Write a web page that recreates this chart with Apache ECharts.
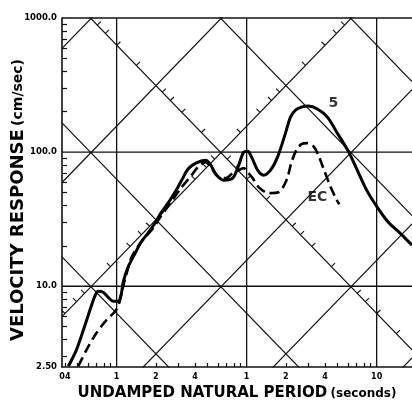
<!DOCTYPE html>
<html><head><meta charset="utf-8">
<script src="https://cdn.jsdelivr.net/npm/echarts@6/dist/echarts.min.js"></script>
<style>html,body{margin:0;padding:0;background:#fff}#c{width:412px;height:409px}</style>
</head><body><div id="c"></div>
<script>
// ---- data ----
const periodTicks = [0.04, 0.1, 0.2, 0.4, 1, 2, 4, 10];
const periodTickLabels = ['04', '1', '2', '4', '1', '2', '4', '10'];
const velocityTicks = [2.5, 10, 100, 1000];
const velocityTickLabels = ['2.50', '10.0', '100.0', '1000.0'];
const periodGridLines = [0.1, 1, 10];
const velocityGridLines = [10, 100, 1000];
const displacementLinesCm = [0.1, 1, 10, 100, 1000];
const accelerationLinesG = [0.001, 0.01, 0.1, 1, 10, 100];
const tickedDisplacementCm = 10;     // diagonal scale carrying acceleration ticks
const tickedAccelerationG = 1;       // diagonal scale carrying displacement ticks
const diagonalTickMultipliers = [2, 4, 6, 8];
const minorMultipliers = [2, 3, 4, 5, 6, 7, 8, 9];

const curve5Period = [0.0425, 0.0489, 0.0554, 0.0605, 0.0649, 0.0685, 0.0722, 0.0788, 0.0861, 0.094, 0.1026, 0.1082, 0.1122, 0.1225, 0.1386, 0.154, 0.1743, 0.197, 0.219, 0.257, 0.296, 0.323, 0.353, 0.407, 0.485, 0.530, 0.579, 0.667, 0.781, 0.869, 0.948, 1.018, 1.092, 1.214, 1.350, 1.527, 1.728, 1.990, 2.173, 2.375, 2.638, 2.985, 3.50, 4.18, 4.98, 6.05, 7.09, 8.46, 10.09, 12.25, 15.14, 18.71];
const curve5Velocity = [2.53, 3.33, 4.70, 6.08, 7.47, 8.57, 9.18, 9.02, 8.28, 7.73, 7.73, 8.57, 10.7, 13.9, 17.6, 21.3, 24.9, 29.5, 35.1, 43.8, 54.8, 64.0, 74.6, 82.8, 87.1, 80.0, 68.5, 61.8, 64.0, 80.0, 100, 101.7, 91.8, 73.4, 67.3, 73.4, 91.8, 138.6, 182.4, 205.6, 216.6, 220.3, 209.5, 182.4, 138.6, 101.7, 73.4, 51.2, 38.9, 30.1, 24.9, 20.2];

const curveECPeriod = [0.0507, 0.0584, 0.0697, 0.0831, 0.0974, 0.1045, 0.1102, 0.1183, 0.1292, 0.1462, 0.1683, 0.1905, 0.219, 0.262, 0.312, 0.372, 0.429, 0.485, 0.549, 0.610, 0.691, 0.781, 0.869, 0.948, 1.018, 1.112, 1.236, 1.474, 1.758, 2.025, 2.213, 2.416, 2.638, 2.934, 3.26, 3.56, 3.89, 4.40, 4.89, 5.16];
const curveECVelocity = [2.53, 3.33, 4.46, 5.57, 6.51, 7.47, 9.33, 12.1, 16.2, 19.9, 23.6, 27.1, 33.3, 42.4, 53.8, 66.2, 78.7, 84.2, 73.4, 65.1, 64.0, 69.7, 73.4, 76.0, 70.9, 64.0, 54.8, 49.5, 50.2, 61.8, 84.2, 103.5, 114.7, 116.7, 110.9, 95.0, 76.0, 55.8, 44.6, 40.9];

const curveLabels = [
  { text: '5', period: 4.64, velocity: 232 },
  { text: 'EC', period: 3.50, velocity: 46 }
];

// ---- build ----
const T_MIN = 0.038, T_MAX = 18.7, V_MIN = 2.5, V_MAX = 1000;
const G_K = 981 / (2 * Math.PI);   // V/T per g
const FONT = 'DejaVu Sans, Liberation Sans, Arial, sans-serif';
function minorTicks(lo, hi) {
  const out = [];
  for (let e = -3; e <= 4; e++) {
    const d = Math.pow(10, e);
    minorMultipliers.forEach(m => { const v = +(m * d).toPrecision(6); if (v > lo && v < hi) out.push(v); });
  }
  return out;
}
function labelFor(ticks, labels) {
  return function (v) {
    for (let i = 0; i < ticks.length; i++) if (Math.abs(Math.log10(v) - Math.log10(ticks[i])) < 1e-3) return labels[i];
    return '';
  };
}
const lineColor = '#111';
const series = [];
function straight(pts, w, clip) {
  series.push({ type: 'line', data: pts, symbol: 'none', silent: true, clip: clip,
    lineStyle: { color: lineColor, width: w }, animation: false, z: 1 });
}
periodGridLines.forEach(t => straight([[t, V_MIN], [t, V_MAX]], 1.3, false));
velocityGridLines.forEach(v => straight([[T_MIN, v], [T_MAX, v]], 1.3, false));
// tripartite diagonals: V*T = 2*pi*D ; V/T = A*981/(2*pi)
displacementLinesCm.forEach(D => {
  const k = 2 * Math.PI * D;
  straight([[T_MIN, k / T_MIN], [T_MAX, k / T_MAX]], 1.2, true);
});
accelerationLinesG.forEach(A => {
  const k = A * G_K;
  straight([[T_MIN, k * T_MIN], [T_MAX, k * T_MAX]], 1.2, true);
});
// small ticks on the two labelled diagonal scales
const diagTicks = [];
for (let e = -4; e <= 3; e++) {
  diagonalTickMultipliers.forEach(m => {
    const val = m * Math.pow(10, e);
    // acceleration tick on the D line
    let t = Math.sqrt(2 * Math.PI * tickedDisplacementCm / (G_K * val));
    let v = 2 * Math.PI * tickedDisplacementCm / t;
    if (t > T_MIN && t < T_MAX && v > V_MIN && v < V_MAX) diagTicks.push([t, v, -1]);
    // displacement tick on the A line
    t = Math.sqrt(2 * Math.PI * val / (G_K * tickedAccelerationG));
    v = G_K * tickedAccelerationG * t;
    if (t > T_MIN && t < T_MAX && v > V_MIN && v < V_MAX) diagTicks.push([t, v, 1]);
  });
}
series.push({
  type: 'custom', data: diagTicks, silent: true, animation: false, z: 2, clip: true,
  renderItem: function (params, api) {
    const t = api.value(0), v = api.value(1), s = api.value(2);
    const p = api.coord([t, v]);
    const q = api.coord([t * 1.2, v * Math.pow(1.2, s)]);
    let dx = q[0] - p[0], dy = q[1] - p[1];
    const len = Math.sqrt(dx * dx + dy * dy); dx /= len; dy /= len;
    let nx = dy, ny = -dx;
    if (ny > 0) { nx = -nx; ny = -ny; }
    return { type: 'line', shape: { x1: p[0], y1: p[1], x2: p[0] + nx * 5, y2: p[1] + ny * 5 },
      style: { stroke: lineColor, lineWidth: 1.1 } };
  }
});
series.push({ type: 'line', data: curve5Period.map((t, i) => [t, curve5Velocity[i]]), symbol: 'none', smooth: 0.3,
  lineStyle: { color: '#000', width: 3 }, animation: false, z: 5 });
series.push({ type: 'line', data: curveECPeriod.map((t, i) => [t, curveECVelocity[i]]), symbol: 'none', smooth: 0.3,
  lineStyle: { color: '#000', width: 2.6, type: [10, 5] }, animation: false, z: 5 });
series.push({ type: 'scatter', symbolSize: 0, animation: false, z: 6,
  data: curveLabels.map(l => ({ value: [l.period, l.velocity], label: { show: true, formatter: l.text } })),
  label: { position: 'inside', color: '#000', fontSize: 14, fontWeight: 'bold', fontFamily: FONT } });

const chart = echarts.init(document.getElementById('c'), null, { renderer: 'canvas' });
chart.setOption({
  backgroundColor: '#fff',
  animation: false,
  grid: { left: 62, right: 0, top: 18, bottom: 42, containLabel: false, outerBoundsMode: 'none' },
  graphic: [{
    type: 'text', x: 18, y: 200, rotation: Math.PI / 2, silent: true,
    style: {
      text: '{a|VELOCITY RESPONSE} {b|(cm/sec)}', align: 'center', verticalAlign: 'middle',
      textAlign: 'center', textVerticalAlign: 'middle',
      rich: {
        a: { fontSize: 18, fontWeight: 'bold', fill: '#000', fontFamily: FONT },
        b: { fontSize: 14, fontWeight: 'bold', fill: '#000', fontFamily: FONT }
      }
    }
  }],
  xAxis: {
    type: 'log', min: T_MIN, max: T_MAX, logBase: 10,
    axisLine: { show: true, lineStyle: { color: lineColor, width: 1.6 } },
    axisTick: { show: true, inside: true, length: 4, customValues: minorTicks(T_MIN, T_MAX), lineStyle: { color: lineColor, width: 1.2 } },
    axisLabel: { customValues: periodTicks, formatter: labelFor(periodTicks, periodTickLabels), color: '#000',
      fontSize: 8, fontWeight: 'bold', fontFamily: FONT, margin: 6 },
    splitLine: { show: false },
    name: '{a|UNDAMPED NATURAL PERIOD} {b|(seconds)}', nameLocation: 'middle', nameGap: 16,
    nameTextStyle: { rich: {
      a: { fontSize: 15, fontWeight: 'bold', color: '#000', fontFamily: FONT },
      b: { fontSize: 12, fontWeight: 'bold', color: '#000', fontFamily: FONT } } }
  },
  yAxis: {
    type: 'log', min: V_MIN, max: V_MAX, logBase: 10,
    axisLine: { show: true, lineStyle: { color: lineColor, width: 1.6 } },
    axisTick: { show: true, inside: true, length: 5, customValues: minorTicks(V_MIN, V_MAX), lineStyle: { color: lineColor, width: 1.2 } },
    axisLabel: { customValues: velocityTicks, formatter: labelFor(velocityTicks, velocityTickLabels), color: '#000',
      fontSize: 8.5, fontWeight: 'bold', fontFamily: FONT, margin: 5 },
    splitLine: { show: false }
  },
  series: series
});
</script></body></html>
